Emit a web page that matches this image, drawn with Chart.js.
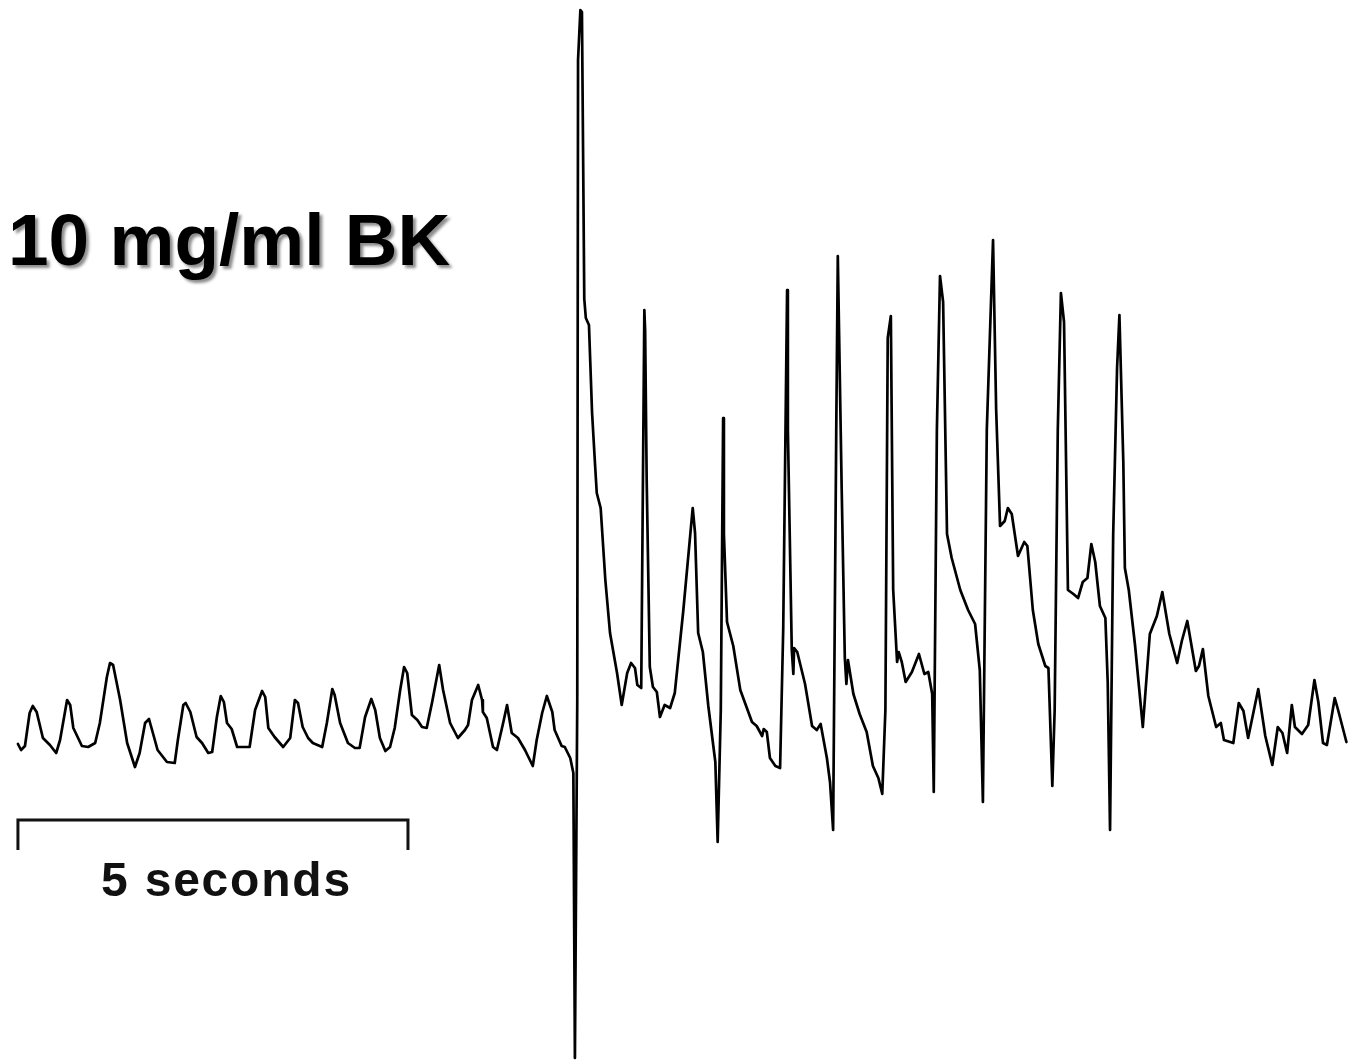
<!DOCTYPE html>
<html lang="en">
<head>
<meta charset="UTF-8">
<title>10 mg/ml BK</title>
<script src="https://cdn.jsdelivr.net/npm/chart.js@4.4.1/dist/chart.umd.min.js"></script>
<style>
    body{
        margin: 0;
        background: #fff;
    }
    .wrap{
        position: relative;
        width: 1355px;
        height: 1063px;
    }
    .title{
        position: absolute;
        left: 8px;
        top: 203px;
        font: bold 73px "Liberation Sans", Arial, sans-serif;
        line-height: 73px;
        color: #000;
        text-shadow: 3px 3px 3px rgba(0,0,0,0.45);
        white-space: nowrap;
    }
    .barlabel{
        position: absolute;
        left: 101px;
        top: 856px;
        font: bold 48px "Liberation Sans", Arial, sans-serif;
        line-height: 48px;
        letter-spacing: 1.8px;
        color: #111;
        white-space: nowrap;
    }
</style>
</head>
<body>
<div class="wrap">
    <canvas id="trace" width="1355" height="1063"></canvas>
    <div class="title">10 mg/ml BK</div>
    <div class="barlabel">5 seconds</div>
</div>
<script>
// time in seconds, value in arbitrary units (baseline ~0)
const time = [
    0.00,0.04,0.09,0.15,0.19,0.24,0.32,0.41,0.49,0.54,0.63,0.67,0.71,0.82,0.90,0.99,
    1.05,1.14,1.18,1.22,1.31,1.40,1.50,1.56,1.63,1.68,1.73,1.79,1.91,
    2.01,2.05,2.12,2.15,2.21,2.29,2.36,2.44,2.49,2.55,2.60,2.64,2.68,2.74,2.81,2.91,2.97,
    3.04,3.13,3.17,3.21,3.29,3.40,3.49,3.55,3.59,3.65,3.72,3.78,3.90,3.96,
    4.03,4.06,4.13,4.23,4.32,4.38,4.45,4.53,4.58,4.64,4.71,4.77,4.83,4.90,4.95,4.99,
    5.05,5.12,5.18,5.24,5.31,5.40,5.45,5.54,5.64,5.73,5.77,5.82,5.90,5.95,5.96,
    6.01,6.09,6.14,6.22,6.27,6.33,6.41,6.50,6.60,6.65,6.72,6.78,6.85,6.88,6.97,
    7.01,7.08,7.12,7.14,7.17,7.18,7.21,7.23,
    7.26,7.28,7.32,7.36,7.40,7.42,7.47,7.53,7.59,7.68,7.74,7.81,7.86,7.91,7.94,7.99,
    8.03,8.04,8.06,8.10,8.14,8.19,8.23,8.29,8.36,8.42,8.53,8.65,8.68,8.72,8.78,8.85,
    8.94,8.97,
    9.01,9.04,9.05,9.09,9.17,9.26,9.41,9.47,9.54,9.56,9.60,9.64,9.71,9.77,9.81,9.86,9.87,
    9.92,9.94,9.95,9.99,
    10.09,10.18,10.24,10.29,10.37,10.41,10.45,10.49,10.51,10.56,10.60,10.62,10.64,10.71,
    10.79,10.88,10.96,
    11.03,11.08,11.12,11.15,11.19,11.22,11.27,11.29,11.33,11.38,11.46,11.55,11.62,11.67,
    11.72,11.74,11.78,11.82,11.86,11.91,11.97,
    12.08,12.18,12.27,12.33,12.37,12.42,12.50,12.54,12.59,12.65,12.69,12.74,12.82,12.90,12.94,
    13.01,13.08,13.17,13.21,13.26,13.29,13.33,13.37,13.41,13.46,13.53,13.59,13.65,13.71,
    13.76,13.81,13.87,13.94,13.97,
    14.00,14.04,14.09,14.12,14.17,14.19,14.24,14.32,14.42,14.51,14.60,14.67,14.76,14.86,
    14.92,14.99,
    15.10,15.14,15.19,15.26,15.36,15.42,15.46,15.58,15.65,15.71,15.77,15.90,15.99,
    16.08,16.15,16.21,16.27,16.33,16.37,16.46,16.54,16.62,16.67,16.73,16.78,16.88,16.92,
    17.03
];
const signal = [
    0.01,-0.05,-0.01,0.32,0.39,0.33,0.07,0.00,-0.08,0.05,0.45,0.40,0.17,-0.01,-0.02,0.02,
    0.22,0.68,0.82,0.80,0.45,0.02,-0.22,-0.08,0.22,0.26,0.12,-0.05,-0.17,
    -0.18,0.05,0.40,0.42,0.33,0.08,0.02,-0.08,-0.07,0.28,0.49,0.43,0.22,0.16,-0.02,-0.02,-0.02,
    0.35,0.54,0.48,0.17,0.08,-0.02,0.07,0.45,0.42,0.18,0.07,0.02,-0.02,0.22,
    0.56,0.50,0.22,0.02,-0.03,-0.03,0.28,0.46,0.35,0.07,-0.06,-0.02,0.17,0.55,0.78,0.72,
    0.30,0.25,0.18,0.17,0.43,0.80,0.55,0.22,0.07,0.15,0.20,0.45,0.60,0.45,0.33,
    0.27,-0.02,-0.05,0.22,0.40,0.12,0.07,-0.05,-0.21,0.05,0.32,0.49,0.33,0.15,-0.01,
    -0.02,-0.13,-0.28,-3.13,0.45,6.85,7.35,7.33,
    4.46,4.27,4.20,3.32,2.78,2.52,2.37,1.65,1.12,0.72,0.40,0.72,0.82,0.77,0.60,0.57,
    4.35,4.15,2.65,0.78,0.58,0.53,0.28,0.40,0.37,0.52,1.35,2.37,2.12,1.12,0.93,0.39,
    -0.17,-0.97,
    0.35,3.27,2.11,1.23,0.99,0.55,0.23,0.19,0.09,0.16,0.13,-0.13,-0.21,-0.23,1.15,4.55,3.15,
    0.95,0.71,0.97,0.93,
    0.61,0.19,0.15,0.21,-0.13,-0.37,-0.85,3.15,4.89,2.55,0.87,0.61,0.85,0.51,
    0.31,0.13,-0.21,
    -0.33,-0.49,0.35,4.07,4.29,1.55,0.83,0.93,0.83,0.63,0.73,0.91,0.71,0.73,
    0.51,-0.47,3.15,4.69,4.43,2.11,1.87,
    1.55,1.35,1.21,0.75,-0.57,3.15,5.05,3.35,2.19,2.24,2.37,2.31,1.89,2.03,1.99,
    1.35,1.01,0.79,0.77,-0.41,0.35,3.15,4.52,4.23,1.55,1.51,1.47,1.63,1.67,
    2.01,1.83,1.39,1.27,0.63,
    -0.85,2.10,3.77,4.30,2.83,1.77,1.55,1.00,0.18,1.11,1.29,1.53,1.11,0.82,
    1.04,1.24,
    0.74,0.79,0.96,0.49,0.18,0.22,0.05,0.02,0.42,0.34,0.07,0.56,0.09,
    -0.20,0.18,0.12,-0.08,0.40,0.18,0.11,0.20,0.65,0.43,0.02,0.00,0.47,0.36,
    0.03
];

// visible window of the recording
const timeMin = -0.23, timeMax = 17.14;
const signalMin = -3.18, signalMax = 7.45;

// scale bar: 5 seconds
const barStart = 0, barLength = 5;
const barLevel = -0.75, barTick = 0.30;

const points = time.map((t, i) => ({x: t, y: signal[i]}));

const scaleBar = {
    id: 'scaleBar',
    afterDatasetsDraw(chart){
        const {ctx, scales} = chart;
        const x0 = scales.x.getPixelForValue(barStart);
        const x1 = scales.x.getPixelForValue(barStart + barLength);
        const y0 = scales.y.getPixelForValue(barLevel);
        const y1 = scales.y.getPixelForValue(barLevel - barTick);
        ctx.save();
        ctx.strokeStyle = '#111';
        ctx.lineWidth = 3;
        ctx.lineJoin = 'miter';
        ctx.beginPath();
        ctx.moveTo(x0, y1);
        ctx.lineTo(x0, y0);
        ctx.lineTo(x1, y0);
        ctx.lineTo(x1, y1);
        ctx.stroke();
        ctx.restore();
    }
};

new Chart(document.getElementById('trace'), {
    type: 'scatter',
    data: {
        datasets: [{
            data: points,
            showLine: true,
            borderColor: '#000',
            borderWidth: 2.7,
            borderJoinStyle: 'round',
            borderCapStyle: 'round',
            pointRadius: 0,
            tension: 0
        }]
    },
    options: {
        responsive: false,
        animation: false,
        layout: {padding: 0},
        plugins: {legend: {display: false}, tooltip: {enabled: false}},
        scales: {
            x: {type: 'linear', min: timeMin, max: timeMax, display: false},
            y: {min: signalMin, max: signalMax, display: false}
        }
    },
    plugins: [scaleBar]
});
</script>
</body>
</html>
